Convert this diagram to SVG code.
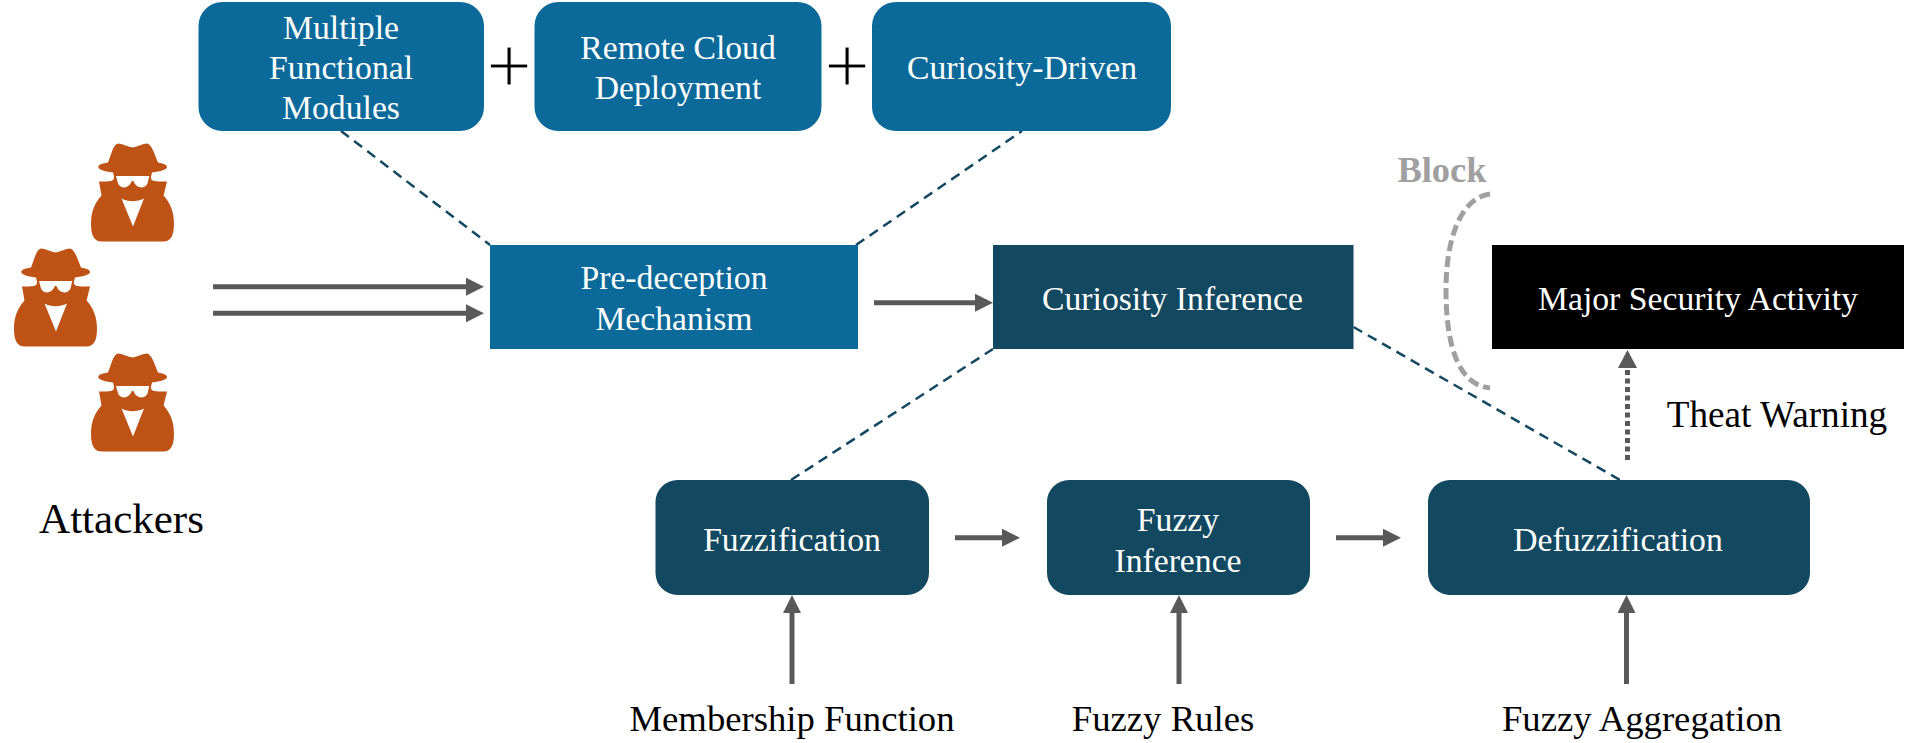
<svg xmlns="http://www.w3.org/2000/svg" width="1908" height="743" viewBox="0 0 1908 743">
<style>
text{font-family:"Liberation Serif","Times New Roman",serif;text-anchor:middle}
.w{fill:#fff;font-size:33.700px}
.k{fill:#000;font-size:36.700px}
.p{fill:#000;font-size:80px;stroke:#fff;stroke-width:0.800px}
.b{fill:#0b6a9a}
.d{fill:#124860}
.dash{fill:none;stroke:#124860;stroke-width:2.500;stroke-dasharray:10 6.500}
.arr{fill:none;stroke:#595959;stroke-width:5;marker-end:url(#ah)}
</style>
<defs>
<marker id="ah" markerUnits="userSpaceOnUse" markerWidth="18" markerHeight="18" refX="4" refY="9" orient="auto"><path d="M0 0L18 9L0 18Z" fill="#595959"/></marker>
<g id="spy">
<path fill="#be5315" d="M27 0C31 0 36 3 41.700 4C47 3 52 0 56 0C61 1 64 12 67 19C72 20 76 21 76 23.500C76 26 70 28 61 29L60 33C60 38 62 38 76 38L72.600 52C79 59 83 68 83 80C83 92 80 98 72 98H11C3 98 0 92 0 80C0 68 4 59 10.500 52L8 38C21 38 23 38 23 33L22 29C13 28 7.300 26 7.300 23.500C7.300 21 11 20 17 19C20 12 22 1 27 0Z"/>
<path fill="#fff" d="M25 32.500H58.300L56.500 40C53.500 46 45 45 42.500 37.500H40.800C38 45 30 46 27 40Z"/>
<path fill="#fff" d="M30.500 55C37 58.500 46 58.500 53 55L42 83Z"/>
</g>
</defs>
<rect width="1908" height="743" fill="#fff"/>
<g id="connectors">
<path class="dash" d="M341 131L490 245"/>
<path class="dash" d="M856 245L1022 131"/>
<path class="dash" d="M791 480L993 349"/>
<path class="dash" d="M1353.500 327L1620 480"/>
<path class="arr" d="M213 286.700H470"/>
<path class="arr" d="M213 313.300H470"/>
<path class="arr" d="M874 302.700H979"/>
<path class="arr" d="M955 537.700H1006"/>
<path class="arr" d="M1336 537.700H1387"/>
<path class="arr" d="M792 684V609"/>
<path class="arr" d="M1179 684V609"/>
<path class="arr" d="M1626.500 684V609"/>
<path fill="none" stroke="#595959" stroke-width="5" stroke-dasharray="5 3.500" d="M1627.500 460V368"/>
<path fill="#595959" d="M1627.500 350L1637 368H1618Z"/>
<path fill="none" stroke="#a0a0a0" stroke-width="5" stroke-dasharray="11 5" d="M1490 194C1460 198 1446 240 1446 290C1446 345 1458 385 1490 388"/>
</g>
<g id="spy1"><use href="#spy" x="91" y="143.500"/></g>
<g id="spy2"><use href="#spy" x="14" y="248.500"/></g>
<g id="spy3"><use href="#spy" x="91" y="353.500"/></g>
<g id="attackers-label"><text x="121.500" y="533" style="font-size:43px" fill="#000">Attackers</text></g>
<g id="n-modules"><rect class="b" x="198.500" y="2" width="285.500" height="129" rx="24"/><text class="w" x="341" y="39">Multiple</text><text class="w" x="341" y="79">Functional</text><text class="w" x="341" y="119">Modules</text></g>
<g id="plus1"><text class="p" x="509" y="93">+</text></g>
<g id="n-cloud"><rect class="b" x="534.500" y="2" width="287" height="129" rx="24"/><text class="w" x="678" y="59">Remote Cloud</text><text class="w" x="678" y="99">Deployment</text></g>
<g id="plus2"><text class="p" x="847" y="93">+</text></g>
<g id="n-curiosity"><rect class="b" x="872" y="2" width="299" height="129" rx="24"/><text class="w" x="1022" y="79">Curiosity-Driven</text></g>
<g id="n-pre"><rect class="b" x="490" y="245" width="368" height="104"/><text class="w" x="674" y="289">Pre-deception</text><text class="w" x="674" y="330">Mechanism</text></g>
<g id="n-inf"><rect class="d" x="993" y="245" width="360.500" height="104"/><text class="w" x="1172.500" y="310">Curiosity Inference</text></g>
<g id="n-major"><rect x="1492" y="245" width="412" height="104" fill="#000"/><text class="w" x="1698" y="310">Major Security Activity</text></g>
<g id="n-fuzz"><rect class="d" x="655.500" y="480" width="273.500" height="115" rx="22"/><text class="w" x="792" y="551">Fuzzification</text></g>
<g id="n-fi"><rect class="d" x="1047" y="480" width="263" height="115" rx="22"/><text class="w" x="1178" y="531">Fuzzy</text><text class="w" x="1178" y="572">Inference</text></g>
<g id="n-def"><rect class="d" x="1428" y="480" width="382" height="115" rx="22"/><text class="w" x="1618" y="551">Defuzzification</text></g>
<g id="labels">
<text class="k" x="792" y="731">Membership Function</text>
<text class="k" x="1163" y="731">Fuzzy Rules</text>
<text class="k" x="1642" y="731">Fuzzy Aggregation</text>
<text x="1777" y="427" fill="#000" style="font-size:37.200px">Theat Warning</text>
<text x="1442" y="182" fill="#a0a0a0" font-weight="bold" style="font-size:36.500px">Block</text>
</g>
</svg>
